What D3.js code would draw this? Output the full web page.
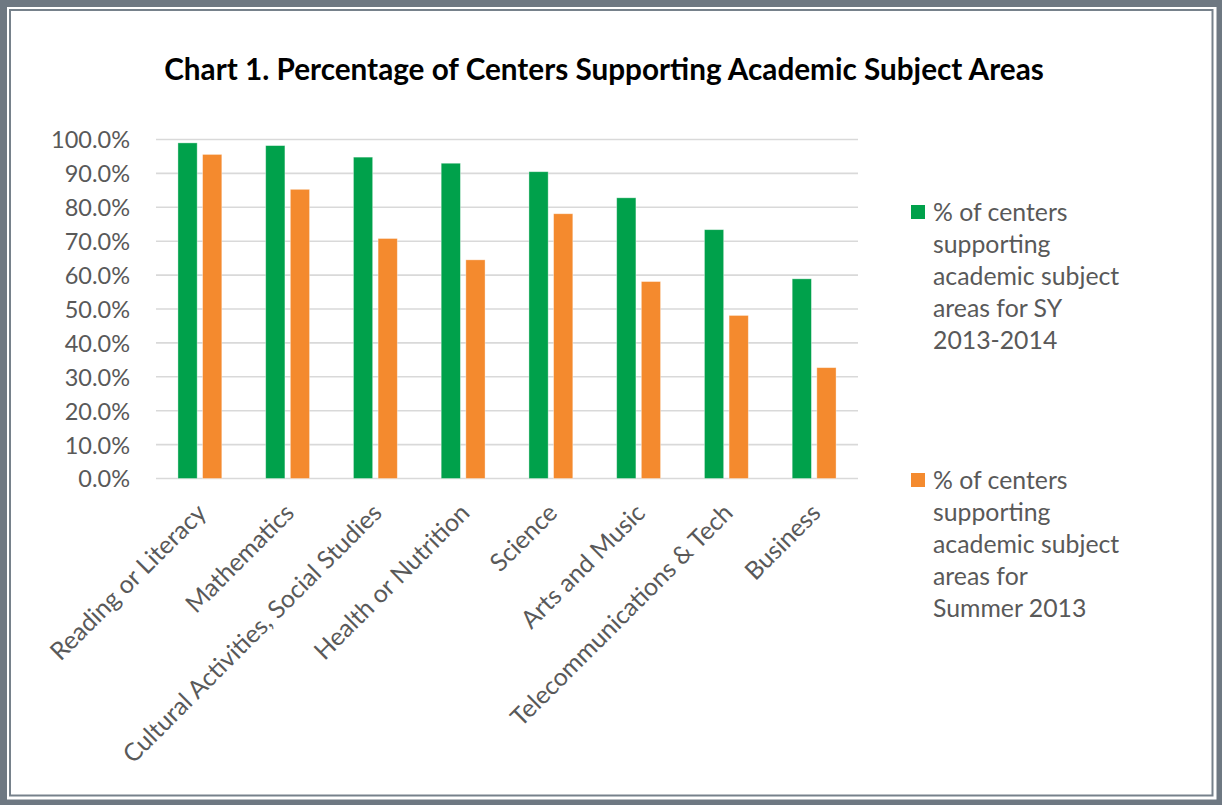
<!DOCTYPE html>
<html>
<head>
<meta charset="utf-8">
<script src="https://cdn.jsdelivr.net/npm/d3@7"></script>
<style>
  html, body { margin: 0; padding: 0; background: #ffffff; }
  svg { display: block; }
  text { font-family: Lato, "Open Sans", sans-serif; }
</style>
</head>
<body>
<svg id="chart" width="1222" height="805"></svg>
<script>
// Subject areas along the x axis
const categories = [
  "Reading or Literacy",
  "Mathematics",
  "Cultural Activities, Social Studies",
  "Health or Nutrition",
  "Science",
  "Arts and Music",
  "Telecommunications & Tech",
  "Business"
];

// Share of centers (%) for the school year and the summer
const schoolYear = [99.0, 98.2, 94.8, 93.0, 90.5, 82.8, 73.4, 58.9];
const summer     = [95.6, 85.3, 70.8, 64.5, 78.1, 58.1, 48.1, 32.7];

const seriesNames = [
  ["% of centers", "supporting", "academic subject", "areas for SY", "2013-2014"],
  ["% of centers", "supporting", "academic subject", "areas for", "Summer 2013"]
];
const seriesColors = ["#00a14b", "#f48a2e"];

const yTicks = [0, 10, 20, 30, 40, 50, 60, 70, 80, 90, 100];
const title = "Chart 1. Percentage of Centers Supporting Academic Subject Areas";

const svg = d3.select("#chart");
const W = 1222, H = 805;
const textColor = "#595959";

// Frame: thick outer border with a thin inner rule
svg.append("rect").attr("x", 0).attr("y", 0).attr("width", W).attr("height", H)
  .attr("fill", "#6e7882");
svg.append("rect").attr("x", 7).attr("y", 7).attr("width", W - 12.5).attr("height", H - 12.5)
  .attr("fill", "#ffffff");
svg.append("rect").attr("x", 10).attr("y", 10).attr("width", W - 19.5).attr("height", H - 19.5)
  .attr("fill", "#ffffff").attr("stroke", "#76818b").attr("stroke-width", 2);

// Title
svg.append("text")
  .attr("x", 604).attr("y", 80)
  .attr("text-anchor", "middle")
  .attr("font-weight", "bold")
  .attr("font-size", 29.7)
  .attr("fill", "#000000")
  .text(title);

const plot = { left: 156, right: 858, top: 139.5, bottom: 478.5 };

const x = d3.scaleBand().domain(categories).range([plot.left, plot.right]).padding(0);
const bw = x.bandwidth();
const xs = d3.scaleBand().domain([0, 1])
  .range([0.25 * bw, 0.75 * bw]).paddingInner(0.22).paddingOuter(0);
const y = d3.scaleLinear().domain([0, 100]).range([plot.bottom, plot.top]);

// Horizontal gridlines
svg.append("g")
  .selectAll("line").data(yTicks).join("line")
  .attr("x1", plot.left).attr("x2", plot.right)
  .attr("y1", d => y(d)).attr("y2", d => y(d))
  .attr("stroke", "#d9d9d9").attr("stroke-width", 1.6);

// Y axis labels
const yAxis = d3.axisLeft(y).tickValues(yTicks).tickSize(0).tickPadding(0)
  .tickFormat(d => d3.format(".1f")(d) + "%");
const gy = svg.append("g").attr("transform", `translate(130,0)`).call(yAxis);
gy.select(".domain").remove();
gy.selectAll("text")
  .attr("fill", textColor).attr("font-size", 23.5)
  .attr("font-family", "Lato, 'Open Sans', sans-serif")
  .attr("dy", "0.36em");

// Bars
const rows = categories.map((c, i) => ({ c, vals: [schoolYear[i], summer[i]] }));
const groups = svg.append("g").selectAll("g").data(rows).join("g")
  .attr("transform", d => `translate(${x(d.c)},0)`);
groups.selectAll("rect").data(d => d.vals.map((v, k) => ({ v, k }))).join("rect")
  .attr("x", d => xs(d.k))
  .attr("width", xs.bandwidth())
  .attr("y", d => y(d.v))
  .attr("height", d => y(0) - y(d.v))
  .attr("fill", d => seriesColors[d.k])
  .attr("stroke", "rgba(255,255,255,0.45)")
  .attr("stroke-width", 0.8);

// Category labels, rotated
const xAxis = d3.axisBottom(x).tickSize(0).tickPadding(0);
const gx = svg.append("g").attr("transform", `translate(0,${plot.bottom})`).call(xAxis);
gx.select(".domain").remove();
gx.selectAll("text")
  .attr("fill", textColor).attr("font-size", 24.8)
  .attr("font-family", "Lato, 'Open Sans', sans-serif")
  .attr("text-anchor", "end")
  .attr("dy", null).attr("y", 0)
  .attr("transform", "translate(8,36) rotate(-45)");

// Legend
const legendTops = [212, 480];
seriesNames.forEach((lines, k) => {
  const g = svg.append("g").attr("transform", `translate(911,${legendTops[k]})`);
  g.append("rect").attr("x", 0).attr("y", -7).attr("width", 14).attr("height", 14)
    .attr("fill", seriesColors[k]);
  g.selectAll("text").data(lines).join("text")
    .attr("x", 22).attr("y", (d, i) => i * 32)
    .attr("dy", "0.36em")
    .attr("font-size", 24.8)
    .attr("fill", textColor)
    .text(d => d);
});
</script>
</body>
</html>
